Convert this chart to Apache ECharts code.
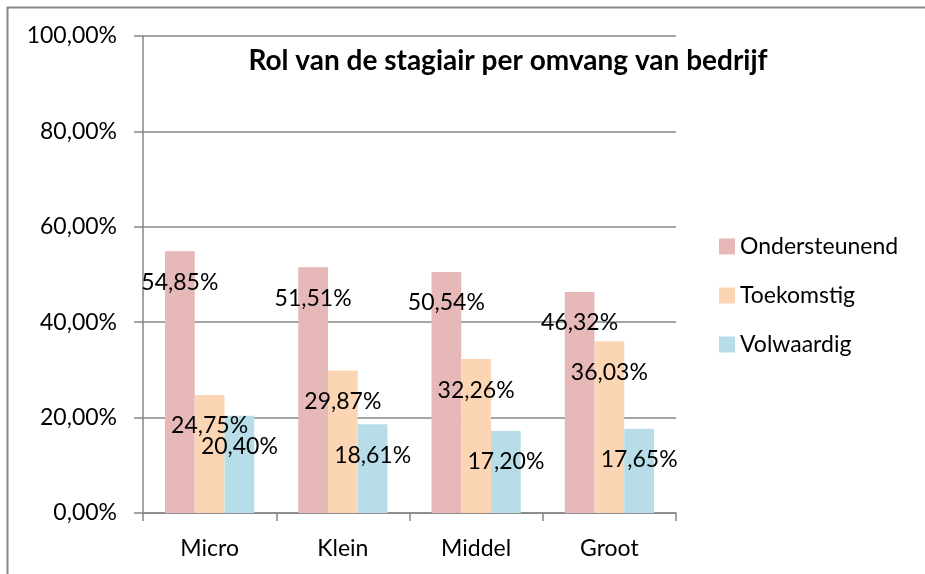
<!DOCTYPE html>
<html>
<head>
<meta charset="utf-8">
<script src="https://cdn.jsdelivr.net/npm/echarts@6/dist/echarts.min.js"></script>
<style>
html,body{margin:0;padding:0;background:#fff;}
#chart{width:925px;height:574px;}
</style>
</head>
<body>
<div id="chart"></div>
<script>
var titleText = 'Rol van de stagiair per omvang van bedrijf';
var categories = ['Micro', 'Klein', 'Middel', 'Groot'];
var seriesNames = ['Ondersteunend', 'Toekomstig', 'Volwaardig'];
var ondersteunend = [54.85, 51.51, 50.54, 46.32];
var toekomstig = [24.75, 29.87, 32.26, 36.03];
var volwaardig = [20.40, 18.61, 17.20, 17.65];
var seriesColors = ['#E6B9B8', '#FCD5B5', '#B7DEE8'];

var FONT = 'Lato';
function pct(v) { return Number(v).toFixed(2).replace('.', ',') + '%'; }

var allData = [ondersteunend, toekomstig, volwaardig];
var series = seriesNames.map(function (name, i) {
  return {
    name: name,
    type: 'bar',
    data: allData[i],
    barGap: '0%',
    barCategoryGap: '33%',
    itemStyle: { color: seriesColors[i] },
    label: {
      show: true,
      position: ['50%', 31],
      align: 'center',
      verticalAlign: 'middle',
      color: '#000',
      fontFamily: FONT,
      fontSize: 23,
      formatter: function (p) { return pct(p.value); }
    }
  };
});

var chart = echarts.init(document.getElementById('chart'), null, { renderer: 'canvas' });
chart.setOption({
  animation: false,
  backgroundColor: '#fff',
  title: {
    text: titleText,
    left: 503,
    top: 42,
    textAlign: 'center',
    textStyle: { fontFamily: FONT, fontWeight: 'bold', fontSize: 28, color: '#000' }
  },
  legend: {
    orient: 'vertical',
    left: 714,
    top: 230,
    itemWidth: 16,
    itemHeight: 16,
    itemGap: 26,
    icon: 'rect',
    data: seriesNames,
    textStyle: { fontFamily: FONT, fontSize: 23, color: '#000' }
  },
  grid: { left: 143, right: 249, top: 36, bottom: 61, containLabel: false },
  xAxis: {
    type: 'category',
    data: categories,
    axisLine: { show: true, lineStyle: { color: '#878787', width: 1.5 } },
    axisTick: { show: true, alignWithLabel: false, length: 8, lineStyle: { color: '#878787', width: 1.5 } },
    axisLabel: { margin: 24, fontFamily: FONT, fontSize: 23, color: '#000' },
    splitLine: { show: false }
  },
  yAxis: {
    type: 'value',
    min: 0,
    max: 100,
    interval: 20,
    axisLine: { show: true, lineStyle: { color: '#878787', width: 1.5 } },
    axisTick: { show: true, length: 9, lineStyle: { color: '#878787', width: 1.5 } },
    axisLabel: { margin: 26, fontFamily: FONT, fontSize: 23, color: '#000', formatter: function (v) { return pct(v); } },
    splitLine: { show: true, lineStyle: { color: '#878787', width: 1.5 } }
  },
  graphic: [{
    type: 'polyline',
    silent: true,
    shape: { points: [[7.5, 580], [7.5, 7.5], [930, 7.5]] },
    style: { stroke: '#878787', lineWidth: 2, fill: null },
    z: 100
  }],
  series: series
});
</script>
</body>
</html>
